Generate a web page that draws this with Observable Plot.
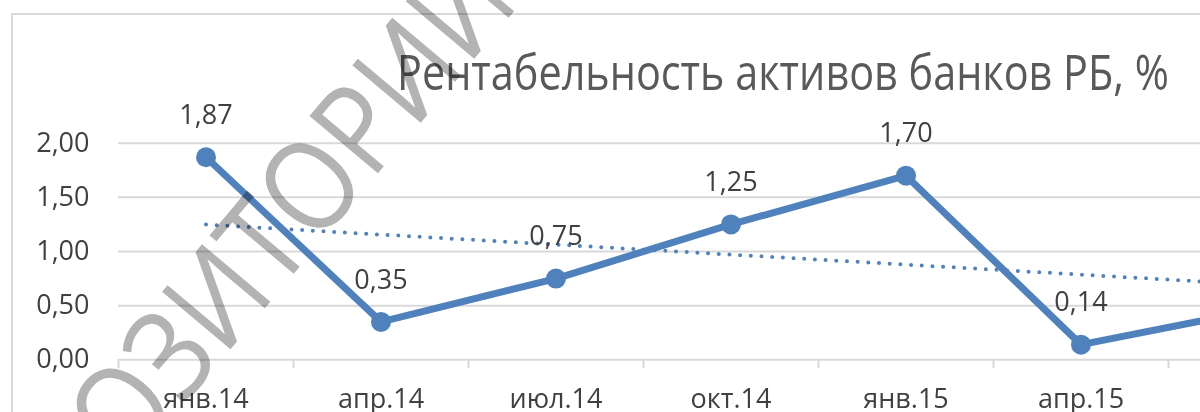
<!DOCTYPE html>
<html><head><meta charset="utf-8">
<script src="https://cdn.jsdelivr.net/npm/d3@7"></script>
<script src="https://cdn.jsdelivr.net/npm/@observablehq/plot@0.6"></script>
<style>
html,body{margin:0;padding:0;background:#fff;overflow:hidden;width:1200px;height:412px;}
#wrap{position:relative;width:1200px;height:412px;overflow:hidden;background:#fff;}
#frame{position:absolute;left:10.5px;top:13px;width:1400px;height:600px;border-left:2px solid #d9d9d9;border-top:2px solid #d9d9d9;}
#chart{position:absolute;left:0;top:0;}
#title{position:absolute;left:0;top:0;}
#wm{position:absolute;left:0;top:0;mix-blend-mode:multiply;pointer-events:none;}
</style></head>
<body><div id="wrap"><div id="frame"></div><div id="chart"></div>
<svg id="title" width="1200" height="412"><text x="397" y="90" font-family="Open Sans" font-size="49" fill="#595959" textLength="772" lengthAdjust="spacingAndGlyphs">Рентабельность активов банков РБ, %</text></svg>
<svg id="wm" width="1200" height="412"><text transform="translate(-6,631) rotate(-50) scale(0.88,1)" font-family="Open Sans" font-weight="500" font-size="125" fill="#b3b3b3">РЕПОЗИТОРИЙ БГЭУ</text></svg>
</div>
<script>
const categories = ["янв.14","апр.14","июл.14","окт.14","янв.15","апр.15","июл.15","окт.15"];
const values = [1.87, 0.35, 0.75, 1.25, 1.70, 0.14, 0.46, 0.88];
const yTicks = [0, 0.5, 1, 1.5, 2];

const data = categories.map((c, i) => ({i, c, v: values[i]}));
const idx = d3.range(categories.length);
const bounds = d3.range(categories.length + 1).map(i => i - 0.5);
const fmt = d => d.toFixed(2).replace(".", ",");
const blue = "#4f81bd";

const chart = Plot.plot({
  width: 1530,
  height: 412,
  marginLeft: 118,
  marginRight: 12,
  marginTop: 142.7,
  marginBottom: 52.7,
  x: {type: "linear", domain: [-0.5, categories.length - 0.5]},
  y: {domain: [0, 2]},
  style: {fontFamily: "Open Sans", fontSize: "27px", color: "#404040", background: "transparent", maxWidth: "none", overflow: "visible"},
  marks: [
    Plot.gridY(yTicks, {stroke: "#d9d9d9", strokeOpacity: 1, strokeWidth: 2}),
    Plot.axisY({ticks: yTicks, tickFormat: fmt, tickSize: 0, tickPadding: 29, fill: "#404040", label: null}),
    Plot.axisX({ticks: bounds, tickFormat: () => "", tickSize: 9, stroke: "#d9d9d9", strokeWidth: 2, label: null}),
    Plot.axisX({ticks: idx, tickFormat: i => categories[i], tickSize: 0, tickPadding: 29, fill: "#404040", label: null}),
    Plot.line(data, {x: "i", y: "v", stroke: blue, strokeWidth: 7}),
    Plot.dot(data, {x: "i", y: "v", r: 10, fill: blue, stroke: "none"}),
    Plot.linearRegressionY(data, {x: "i", y: "v", stroke: blue, strokeWidth: 4, strokeDasharray: "0 10.7", strokeLinecap: "round", ci: 0}),
    Plot.text(data, {x: "i", y: "v", text: d => fmt(d.v), dy: -42, fill: "#404040"})
  ]
});
document.getElementById("chart").appendChild(chart);
</script>
</body></html>
